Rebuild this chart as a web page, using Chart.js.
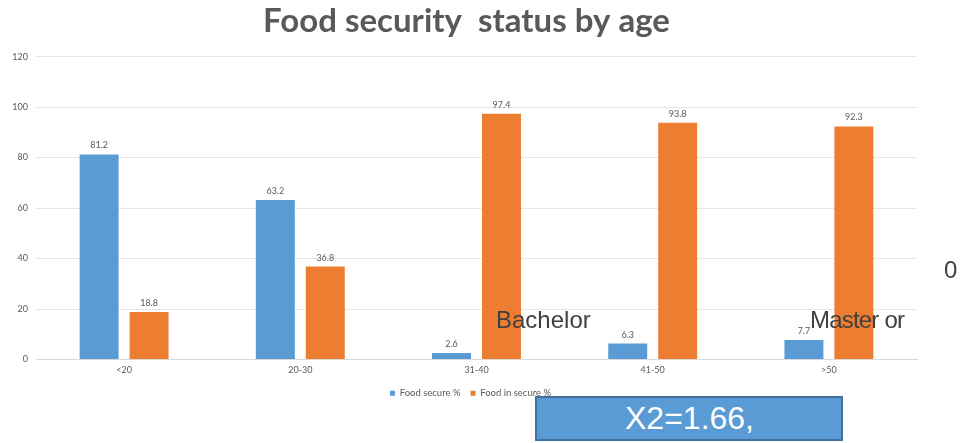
<!DOCTYPE html>
<html>
<head>
<meta charset="utf-8">
<script src="https://cdn.jsdelivr.net/npm/chart.js@4.4.1/dist/chart.umd.min.js"></script>
<style>
  html, body { margin: 0; padding: 0; background: #fff; }
  #wrap { position: relative; width: 962px; height: 443px; overflow: hidden; }
  #myChart { position: absolute; left: 0; top: 0; }
  .note { position: absolute; font-family: "Liberation Sans", Arial, sans-serif; color: #404040; white-space: nowrap; line-height: 1; }
  #x2box { position: absolute; left: 535px; top: 396px; width: 308px; height: 45px;
           background: #5b9bd5; border: 2px solid #41719c; color: #fff; box-sizing: border-box;
           font-family: "Liberation Sans", Arial, sans-serif; font-size: 32px; line-height: 41px;
           padding-left: 88px; }
</style>
</head>
<body>
<div id="wrap">
  <canvas id="myChart" width="962" height="443"></canvas>
  <div class="note" style="left:496px; top:308px; font-size:24px;">Bachelor</div>
  <div class="note" style="left:810px; top:308px; font-size:24px; letter-spacing:-0.8px;">Master or</div>
  <div class="note" style="left:944px; top:258px; font-size:24px;">0</div>
  <div id="x2box">X2=1.66,</div>
</div>
<script>
var ageGroups = ['<20', '20-30', '31-40', '41-50', '>50'];
var foodSecure = [81.2, 63.2, 2.6, 6.3, 7.7];
var foodInsecure = [18.8, 36.8, 97.4, 93.8, 92.3];
var yTicks = [0, 20, 40, 60, 80, 100, 120];

var blue = '#5b9bd5';
var orange = '#ed7d31';
var grey = '#595959';

// value labels above each bar
var barLabels = {
  id: 'barLabels',
  afterDatasetsDraw: function(chart) {
    var ctx = chart.ctx;
    ctx.save();
    ctx.font = '9px Lato';
    ctx.fillStyle = grey;
    ctx.textAlign = 'center';
    ctx.textBaseline = 'middle';
    chart.data.datasets.forEach(function(ds, i) {
      chart.getDatasetMeta(i).data.forEach(function(bar, j) {
        ctx.fillText(ds.data[j].toFixed(1), bar.x, bar.y - 9);
      });
    });
    ctx.restore();
  }
};

// nudge title and legend a bit to the right
var boxShift = {
  id: 'boxShift',
  afterLayout: function(chart) {
    chart.legend.left += 12;
    chart.legend.right += 12;
    chart.titleBlock.left += 8;
    chart.titleBlock.right += 8;
  }
};

var data = {
  labels: ageGroups,
  datasets: [{
    label: 'Food secure %',
    backgroundColor: blue,
    borderWidth: 0,
    data: foodSecure
  }, {
    label: 'Food in secure %',
    backgroundColor: orange,
    borderWidth: 0,
    data: foodInsecure
  }]
};

var config = {
  type: 'bar',
  data: data,
  plugins: [barLabels, boxShift],
  options: {
    responsive: false,
    animation: false,
    layout: { padding: { left: 0, right: 45, top: 0, bottom: 35 } },
    datasets: { bar: { categoryPercentage: 0.567, barPercentage: 0.78 } },
    scales: {
      x: {
        grid: { display: false, drawTicks: false },
        border: { color: '#d9d9d9', width: 1 },
        ticks: { color: grey, font: { family: 'Lato', size: 9 }, padding: 5 },
        afterFit: function(scale) { scale.height = 19; }
      },
      y: {
        min: 0,
        max: 120,
        afterBuildTicks: function(scale) {
          scale.ticks = yTicks.map(function(v) { return { value: v }; });
        },
        grid: { color: '#e6e6e6', drawTicks: false },
        border: { display: false },
        ticks: { color: grey, font: { family: 'Lato', size: 9 }, padding: 8 },
        afterFit: function(scale) { scale.width = 36; }
      }
    },
    plugins: {
      title: {
        display: true,
        text: 'Food security  status by age',
        color: grey,
        font: { family: 'Lato', size: 33, weight: 'bold' },
        padding: { top: 2, bottom: 15 }
      },
      legend: {
        position: 'bottom',
        labels: {
          color: grey,
          font: { family: 'Lato', size: 9.5 },
          boxWidth: 5,
          boxHeight: 5,
          padding: 10
        }
      },
      tooltip: { enabled: false }
    }
  }
};

var myChart = new Chart(document.getElementById('myChart'), config);
</script>
</body>
</html>
